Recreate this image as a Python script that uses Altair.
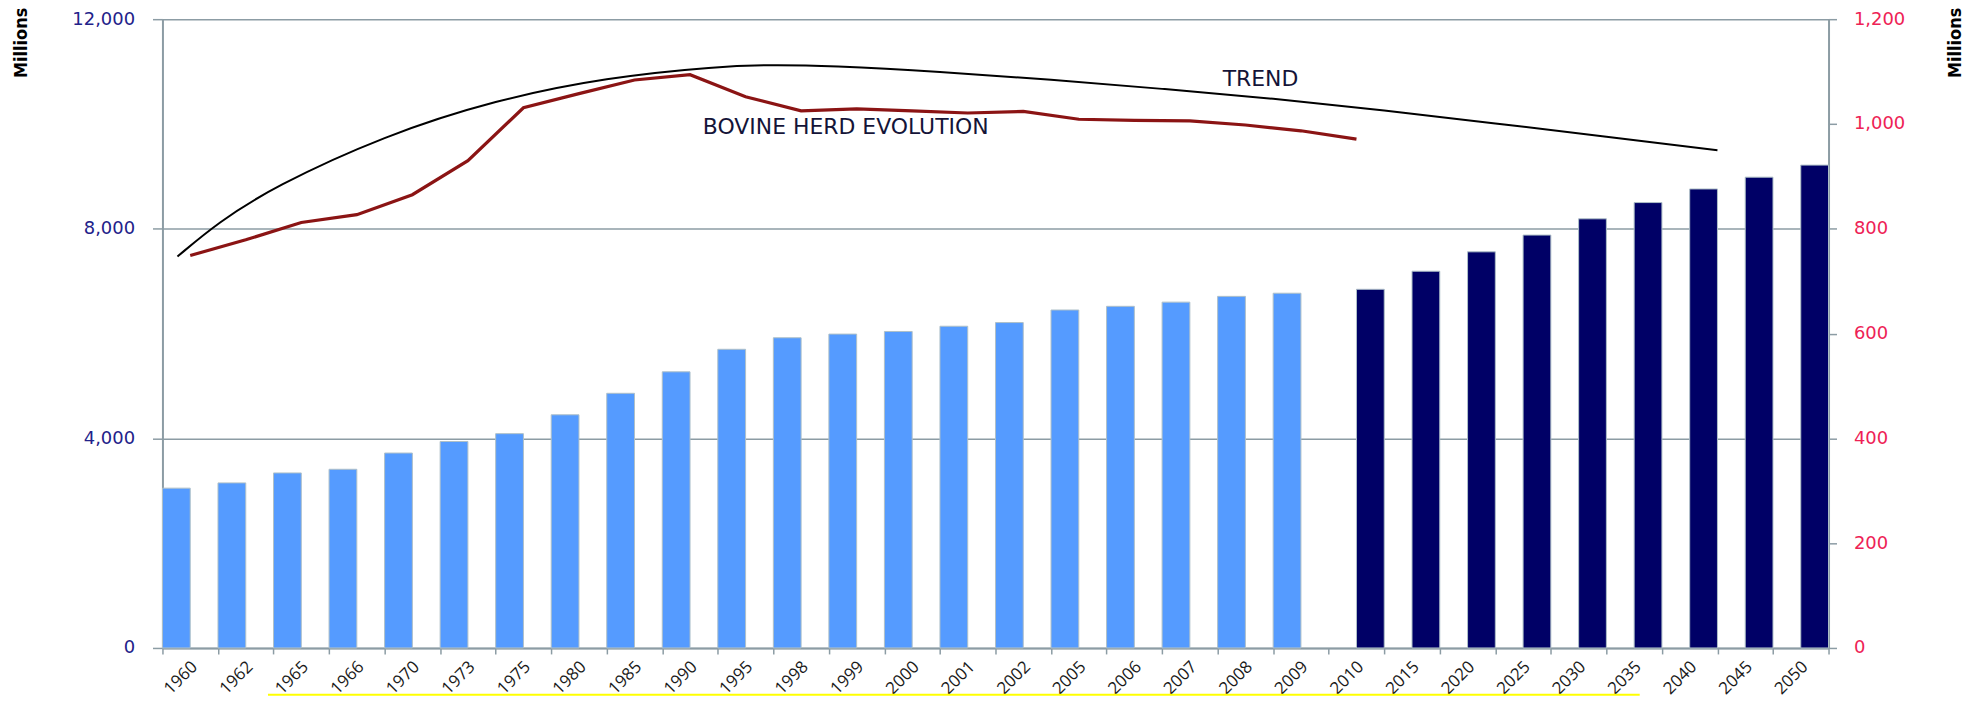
import altair as alt
import pandas as pd

# ---------------- data ----------------
years = ["1960", "1962", "1965", "1966", "1970", "1973", "1975", "1980", "1985",
         "1990", "1995", "1998", "1999", "2000", "2001", "2002", "2005", "2006",
         "2007", "2008", "2009", "2010", "2015", "2020", "2025", "2030", "2035",
         "2040", "2045", "2050"]
population = [3050, 3150, 3340, 3410, 3720, 3940, 4090, 4450, 4860, 5270, 5700,
              5920, 5990, 6040, 6140, 6210, 6450, 6520, 6600, 6710, 6770,
              6845, 7190, 7560, 7880, 8190, 8500, 8760, 8985, 9215]
series = ["Historic"] * 21 + ["Projection"] * 9

# bovine herd (right axis), 1960 .. 2010
herd = [749, 779, 812, 827, 865, 930, 1031, 1058, 1084, 1094, 1052, 1025, 1029,
        1025, 1021, 1024, 1009, 1007, 1006, 998, 987, 971]

# trend curve, position in category units along the x axis
trend_pos = [0.27, 1, 2, 4, 6, 8, 10, 11, 12, 14, 16, 18, 20, 22, 24, 26, 28]
trend_val = [747, 812, 880, 978, 1046, 1089, 1110, 1113, 1111, 1100, 1085,
             1067, 1049, 1026, 1001, 976, 950]

ann_text = ["BOVINE HERD EVOLUTION", "TREND"]
ann_pos = [9.73, 19.09]
ann_val = [980, 1072]

underline_pos = [1.9]
underline_pos2 = [26.6]

# ---------------- tables ----------------
bars_df = pd.DataFrame({"year": years, "population": population, "series": series})
herd_df = pd.DataFrame({"pos": [i + 0.5 for i in range(len(herd))], "value": herd})
trend_df = pd.DataFrame({"pos": trend_pos, "value": trend_val})
ann_df = pd.DataFrame({"text": ann_text, "pos": ann_pos, "value": ann_val})
ul_df = pd.DataFrame({"pos": underline_pos, "pos2": underline_pos2})

GRID = "#8C9CA4"
W, H = 1672, 631
TITLE_FONT = "Liberation Sans Narrow, DejaVu Sans Condensed, Arial Narrow, sans-serif"

bars = alt.Chart(bars_df).mark_bar(stroke="#AFC0C8", strokeWidth=1).encode(
    x=alt.X("year:N", sort=years,
            scale=alt.Scale(paddingInner=0, paddingOuter=0),
            axis=alt.Axis(title=None, labelAngle=315, labelAlign="right",
                          labelBaseline="middle", labelPadding=10, labelOffset=4,
                          tickBand="extent", tickSize=6, tickColor=GRID,
                          tickWidth=1.5, domainColor=GRID, domainWidth=2,
                          labelFont="Open Sans", labelFontSize=17,
                          labelColor="#1A1A1A", grid=False)),
    xOffset=alt.XOffset("series:N",
                        scale=alt.Scale(domain=["Historic", "Projection"],
                                        paddingInner=0, paddingOuter=0)),
    y=alt.Y("population:Q",
            scale=alt.Scale(domain=[0, 12000], nice=False),
            axis=alt.Axis(values=[0, 4000, 8000, 12000], format=",d",
                          title="Millions", titleAngle=270, titleAlign="right",
                          titleBaseline="middle", titleX=-141, titleY=-12,
                          titleFont=TITLE_FONT, titleFontSize=18,
                          titleFontWeight="bold", titleColor="black",
                          labelFont="DejaVu Sans", labelFontSize=18,
                          labelColor="#22228A", labelPadding=18, tickSize=10,
                          tickColor=GRID, tickWidth=1.5, domainColor=GRID,
                          domainWidth=2, grid=True, gridColor=GRID,
                          gridWidth=1.5)),
    color=alt.Color("series:N",
                    scale=alt.Scale(domain=["Historic", "Projection"],
                                    range=["#559BFF", "#000066"]),
                    legend=None),
)

xq = alt.X("pos:Q", scale=alt.Scale(domain=[0, 30], nice=False, zero=False),
           axis=None)

red = alt.Chart(herd_df).mark_line(color="#8B1414", strokeWidth=3.2).encode(
    x=xq,
    y=alt.Y("value:Q", scale=alt.Scale(domain=[0, 1200], nice=False),
            axis=alt.Axis(orient="right", values=list(range(0, 1201, 200)),
                          format=",d", title="Millions", titleAngle=270,
                          titleAlign="right", titleBaseline="middle",
                          titleX=127, titleY=-12, titleFont=TITLE_FONT,
                          titleFontSize=18, titleFontWeight="bold",
                          titleColor="black", labelFont="DejaVu Sans",
                          labelFontSize=18, labelColor="#EE2255",
                          labelPadding=17, tickSize=8, tickColor=GRID,
                          tickWidth=1.5, domainColor=GRID, domainWidth=2,
                          grid=False)),
)

trend = alt.Chart(trend_df).mark_line(color="black", strokeWidth=2,
                                      interpolate="basis").encode(
    x=xq, y=alt.Y("value:Q"))

texts = alt.Chart(ann_df).mark_text(align="left", baseline="alphabetic",
                                    font="DejaVu Sans", fontSize=22,
                                    color="#141438").encode(
    x=xq, y=alt.Y("value:Q"), text="text:N")

underline = alt.Chart(ul_df).mark_rule(color="#FFFF00", strokeWidth=2).encode(
    x=xq, x2="pos2:Q", y=alt.value(678))

lines = alt.layer(red, trend, texts, underline)

chart = alt.layer(bars, lines).resolve_scale(
    x="independent", y="independent"
).properties(
    width=W, height=H,
    padding={"left": 155, "top": 10, "right": 150, "bottom": 50},
    autosize=alt.AutoSizeParams(type="none"),
    background="white",
).configure_view(stroke=None)

chart.save("out.html", embed_options={"renderer": "svg", "actions": False})
